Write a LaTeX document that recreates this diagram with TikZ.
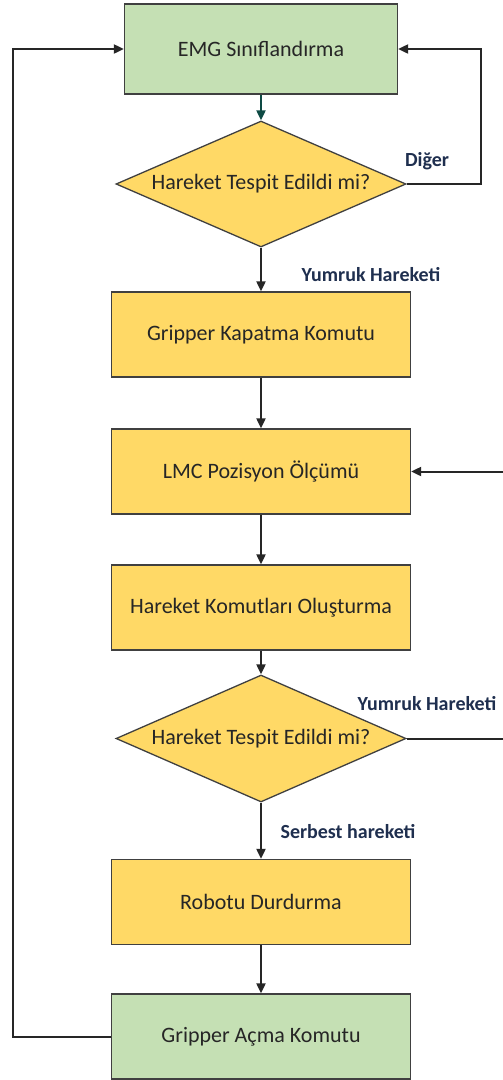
\documentclass[tikz,border=0pt]{standalone}
\usepackage{fontspec}
\setmainfont{Carlito}
\usetikzlibrary{shapes.geometric,arrows.meta}
\definecolor{boxgreen}{HTML}{C5E0B4}
\definecolor{boxyellow}{HTML}{FFD966}
\definecolor{edgegray}{HTML}{404040}
\definecolor{textdark}{HTML}{262626}
\definecolor{labelblue}{HTML}{1F2F4F}
\definecolor{tealarrow}{HTML}{0E4A44}
\tikzset{
  procbox/.style={rectangle, draw=edgegray, line width=1.3pt, minimum width=299pt,
    minimum height=85pt, inner sep=0pt, text=textdark, font=\fontsize{22}{26}\selectfont},
  greenbox/.style={procbox, fill=boxgreen},
  yellowbox/.style={procbox, fill=boxyellow},
  decision/.style={diamond, draw=edgegray, line width=1.3pt, fill=boxyellow, minimum width=290pt,
    minimum height=126pt, inner sep=0pt, aspect=2.3, text=textdark, font=\fontsize{22}{26}\selectfont},
  flow/.style={line width=2pt, draw=textdark, -{Triangle[length=10pt,width=9pt]}},
  plainline/.style={line width=2pt, draw=textdark},
  branchlabel/.style={text=labelblue, font=\bfseries\fontsize{20}{24}\selectfont, inner sep=0pt}
}
\begin{document}
\begin{tikzpicture}[x=1pt,y=-1pt]
\useasboundingbox (0,0) rectangle (503,1080);
\fill[white] (0,0) rectangle (503,1080);

% process steps
\node[greenbox, minimum width=273pt, minimum height=90pt] (emg) at (261,49) {EMG Sınıflandırma};
\node[decision] (d1) at (261,184) {Hareket Tespit Edildi mi?};
\node[yellowbox] (grip) at (261,334.5) {Gripper Kapatma Komutu};
\node[yellowbox] (lmc) at (261,471.5) {LMC Pozisyon Ölçümü};
\node[yellowbox] (kom) at (261,607.5) {Hareket Komutları Oluşturma};
\node[decision, minimum height=127pt] (d2) at (261,738.5) {Hareket Tespit Edildi mi?};
\node[yellowbox] (robot) at (261,902) {Robotu Durdurma};
\node[greenbox] (acma) at (261,1036.5) {Gripper Açma Komutu};

% loop corners and free ends
\coordinate (rtop) at (481,49);
\coordinate (ltop) at (13,49);
\coordinate (lbot) at (13,1036.5);
\coordinate (edge1) at (503,471.5);
\coordinate (edge2) at (503,738.5);

% main flow
\draw[flow, draw=tealarrow, -{Triangle[length=10pt,width=9pt,fill=tealarrow]}] (emg.south) -- (d1.north);
\draw[flow] (d1.south) -- (grip.north);
\draw[flow] (grip.south) -- (lmc.north);
\draw[flow] (lmc.south) -- (kom.north);
\draw[flow] (kom.south) -- (d2.north);
\draw[flow] (d2.south) -- (robot.north);
\draw[flow] (robot.south) -- (acma.north);

% feedback loops
\draw[flow] (d1.east) -| (rtop) -- (emg.east);
\draw[flow] (acma.west) -- (lbot) -- (ltop) -- (emg.west);
\draw[flow] (edge1) -- (lmc.east);
\draw[plainline] (d2.east) -- (edge2);

% branch labels
\node[branchlabel] (ldiger) at (427,161) {Diğer};
\node[branchlabel] (lyum1) at (371,275) {Yumruk Hareketi};
\node[branchlabel] (lyum2) at (427,704) {Yumruk Hareketi};
\node[branchlabel] (lserb) at (348,832) {Serbest hareketi};
\end{tikzpicture}
\end{document}
